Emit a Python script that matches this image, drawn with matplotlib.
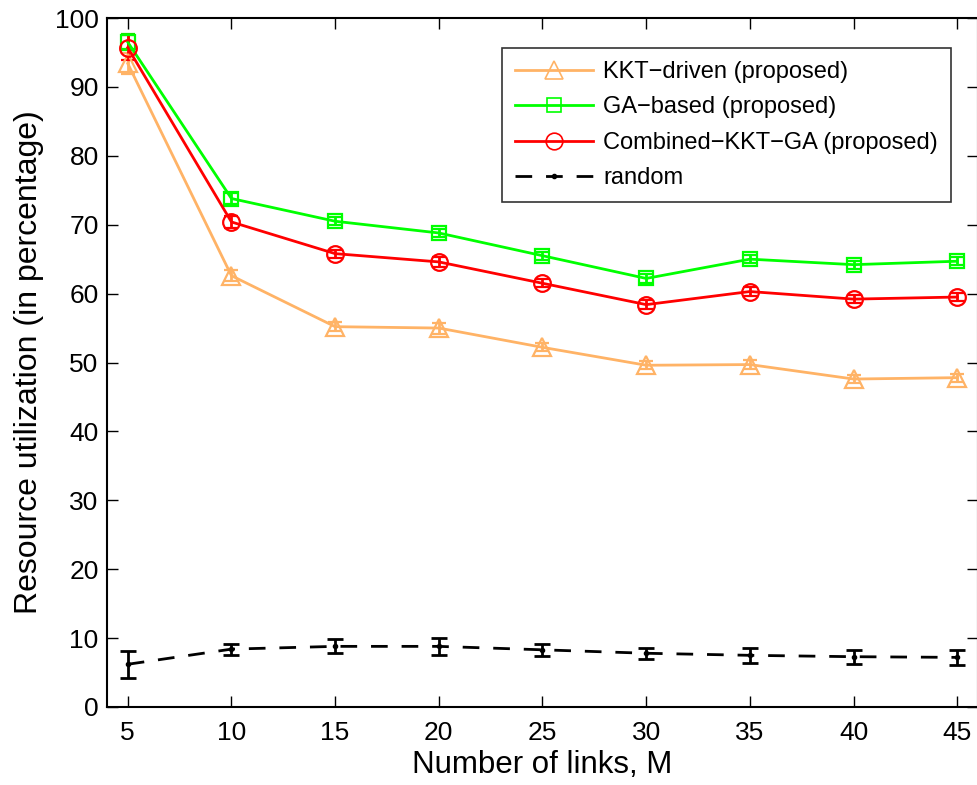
import matplotlib
matplotlib.use("Agg")
import matplotlib.pyplot as plt
from matplotlib.lines import Line2D

plt.rcParams['font.family'] = ['Liberation Sans', 'DejaVu Sans']

links = [5, 10, 15, 20, 25, 30, 35, 40, 45]
kkt = [93.4, 62.6, 55.2, 55.0, 52.2, 49.6, 49.7, 47.6, 47.8]
kkt_err = [1.5, 0.8, 0.7, 0.8, 0.6, 0.6, 0.7, 0.6, 0.6]
ga = [96.5, 73.8, 70.5, 68.8, 65.5, 62.2, 65.0, 64.2, 64.7]
ga_err = [1.2, 0.8, 0.6, 0.6, 0.6, 0.6, 0.6, 0.6, 0.6]
comb = [95.7, 70.4, 65.8, 64.6, 61.5, 58.4, 60.3, 59.2, 59.5]
comb_err = [1.8, 0.9, 0.6, 0.7, 0.6, 0.6, 0.7, 0.6, 0.6]
rand = [6.2, 8.4, 8.8, 8.8, 8.3, 7.8, 7.5, 7.3, 7.2]
rand_err = [2.0, 0.8, 1.0, 1.2, 0.9, 0.8, 1.1, 1.0, 1.1]

labels = ['KKT\u2212driven (proposed)', 'GA\u2212based (proposed)',
          'Combined\u2212KKT\u2212GA (proposed)', 'random']

fig = plt.figure(figsize=(9.78, 7.85), dpi=100)
ax = fig.add_axes([107/978, 78/785, 871/978, 689/785])

orange = '#FFB366'
green = '#00FF00'
red = '#FF0000'
dash = (0, (6, 5))

styles = [
    dict(color=orange, marker='^', ms=13, ls='-'),
    dict(color=green, marker='s', ms=10, ls='-'),
    dict(color=red, marker='o', ms=12, ls='-'),
]
for ys, es, st in zip([kkt, ga, comb], [kkt_err, ga_err, comb_err], styles):
    ax.errorbar(links, ys, yerr=es, color=st['color'], marker=st['marker'], mfc='none',
                mec=st['color'], ms=st['ms'], mew=1.6, lw=2, capsize=5,
                elinewidth=2, capthick=2)
ax.errorbar(links, rand, yerr=rand_err, color='black', marker='.', ms=6,
            lw=2, ls=dash, capsize=6, elinewidth=2, capthick=2)

handles = [Line2D([], [], color=st['color'], marker=st['marker'], mfc='none',
                  mec=st['color'], ms=st['ms'], mew=1.2, lw=2) for st in styles]
handles.append(Line2D([], [], color='black', marker='.', ms=6, lw=2, ls=dash))

ax.set_xlim(4, 46)
ax.set_ylim(0, 100)
ax.set_xticks(links)
ax.set_yticks(range(0, 101, 10))
ax.tick_params(direction='in', length=8, width=1, labelsize=19, top=True, right=True)
ax.tick_params(axis='x', pad=10)
ax.tick_params(axis='y', pad=6)
for s in ax.spines.values():
    s.set_linewidth(1.5)
ax.set_xlabel('Number of links, M', fontsize=22.5, labelpad=4)
ax.set_ylabel('Resource utilization (in percentage)', fontsize=23, labelpad=8)

leg = ax.legend(handles, labels, loc='upper right', fontsize=17, fancybox=False,
                frameon=True, edgecolor='black', handlelength=3.3, handletextpad=0.45,
                borderpad=0.55, labelspacing=0.57, borderaxespad=0,
                bbox_to_anchor=((951 - 107) / 871, (707 - 48) / 689),
                bbox_transform=ax.transAxes)
leg.get_frame().set_linewidth(1.2)

fig.savefig('out.png', dpi=100)
